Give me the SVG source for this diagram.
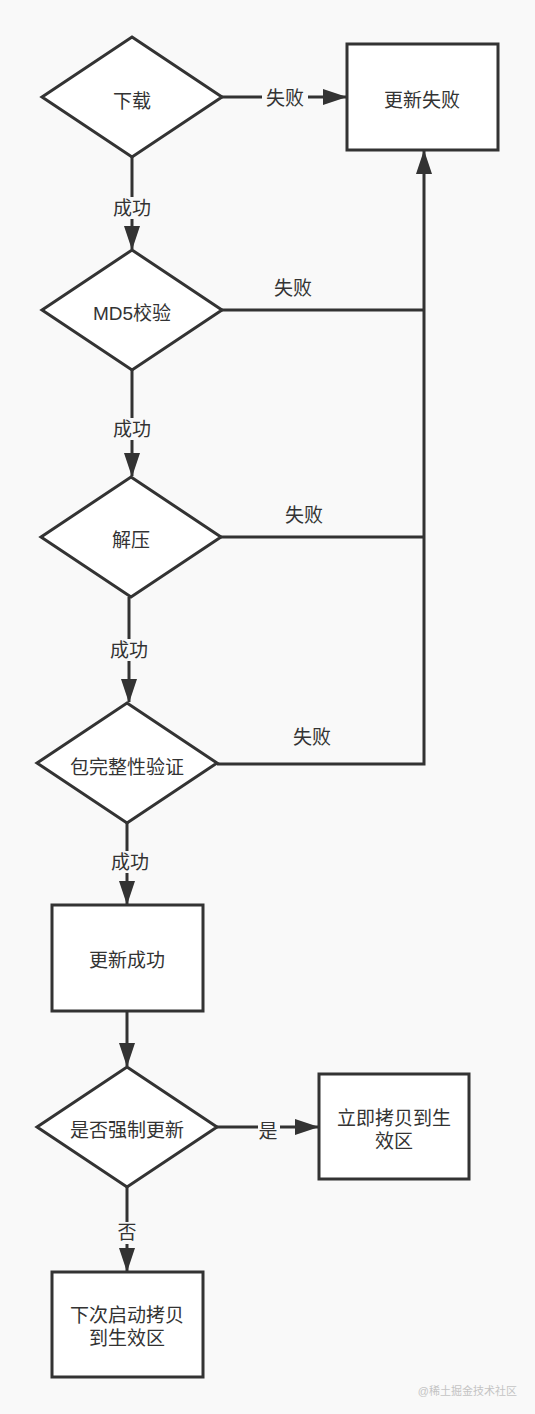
<svg xmlns="http://www.w3.org/2000/svg" width="535" height="1414" viewBox="0 0 535 1414">
<style>
.shape{fill:#ffffff;stroke:#333333;stroke-width:3}
.edge{fill:none;stroke:#333333;stroke-width:3}
text{font-family:"Liberation Sans","Noto Sans CJK SC",sans-serif;font-size:19px;fill:#333333;text-anchor:middle;dominant-baseline:central}
.lbg{fill:#f9f9f9}
.wm{font-size:11px;fill:#c4c4c4;text-anchor:end}
</style>
<defs>
<marker id="arr" markerUnits="userSpaceOnUse" markerWidth="24" markerHeight="16" refX="23" refY="8" orient="auto">
<path d="M0,0 L24,8 L0,16 Z" fill="#333333"/>
</marker>
</defs>
<rect width="535" height="1414" fill="#f9f9f9"/>
<g id="connectors">
<path class="edge" d="M222,97 L346,97" marker-end="url(#arr)"/>
<path class="edge" d="M132,157 L132,249" marker-end="url(#arr)"/>
<path class="edge" d="M222,310 L424,310"/>
<path class="edge" d="M132,370 L132,476" marker-end="url(#arr)"/>
<path class="edge" d="M221,537 L424,537"/>
<path class="edge" d="M129,597 L129,702" marker-end="url(#arr)"/>
<path class="edge" d="M217,764 L424,764 L424,151" marker-end="url(#arr)"/>
<path class="edge" d="M127,823 L127,904" marker-end="url(#arr)"/>
<path class="edge" d="M127,1011 L127,1066" marker-end="url(#arr)"/>
<path class="edge" d="M217,1127 L318,1127" marker-end="url(#arr)"/>
<path class="edge" d="M127,1187 L127,1271" marker-end="url(#arr)"/>
<rect class="lbg" x="262" y="87" width="46" height="22"/>
<text x="285" y="98">失败</text>
<rect class="lbg" x="109" y="197" width="46" height="22"/>
<text x="132" y="208">成功</text>
<text x="293" y="288">失败</text>
<rect class="lbg" x="109" y="418" width="46" height="22"/>
<text x="132" y="429">成功</text>
<text x="304" y="515">失败</text>
<rect class="lbg" x="106" y="639" width="46" height="22"/>
<text x="129" y="650">成功</text>
<text x="312" y="737">失败</text>
<rect class="lbg" x="107" y="851" width="46" height="22"/>
<text x="130" y="862">成功</text>
<rect class="lbg" x="258" y="1120" width="22" height="22"/>
<text x="268" y="1131">是</text>
<rect class="lbg" x="117" y="1222" width="22" height="22"/>
<text x="127" y="1232">否</text>
</g>
<g id="n1"><polygon class="shape" points="132,37 222,97 132,157 42,97"/><text x="132" y="101">下载</text></g>
<g id="n2"><rect class="shape" x="347" y="44" width="151" height="106"/><text x="422" y="100">更新失败</text></g>
<g id="n3"><polygon class="shape" points="132,250 222,310 132,370 42,310"/><text x="132" y="313">MD5校验</text></g>
<g id="n4"><polygon class="shape" points="131,477 221,537 131,597 41,537"/><text x="131" y="540">解压</text></g>
<g id="n5"><polygon class="shape" points="127,703 217,763 127,823 37,763"/><text x="127" y="767">包完整性验证</text></g>
<g id="n6"><rect class="shape" x="52" y="905" width="151" height="106"/><text x="127" y="960">更新成功</text></g>
<g id="n7"><polygon class="shape" points="127,1067 217,1127 127,1187 37,1127"/><text x="127" y="1130">是否强制更新</text></g>
<g id="n8"><rect class="shape" x="319" y="1074" width="150" height="105"/><text x="394" y="1118">立即拷贝到生</text><text x="394" y="1141">效区</text></g>
<g id="n9"><rect class="shape" x="52" y="1272" width="151" height="105"/><text x="127" y="1315">下次启动拷贝</text><text x="127" y="1338">到生效区</text></g>
<text class="wm" x="517" y="1391">@稀土掘金技术社区</text>
</svg>
